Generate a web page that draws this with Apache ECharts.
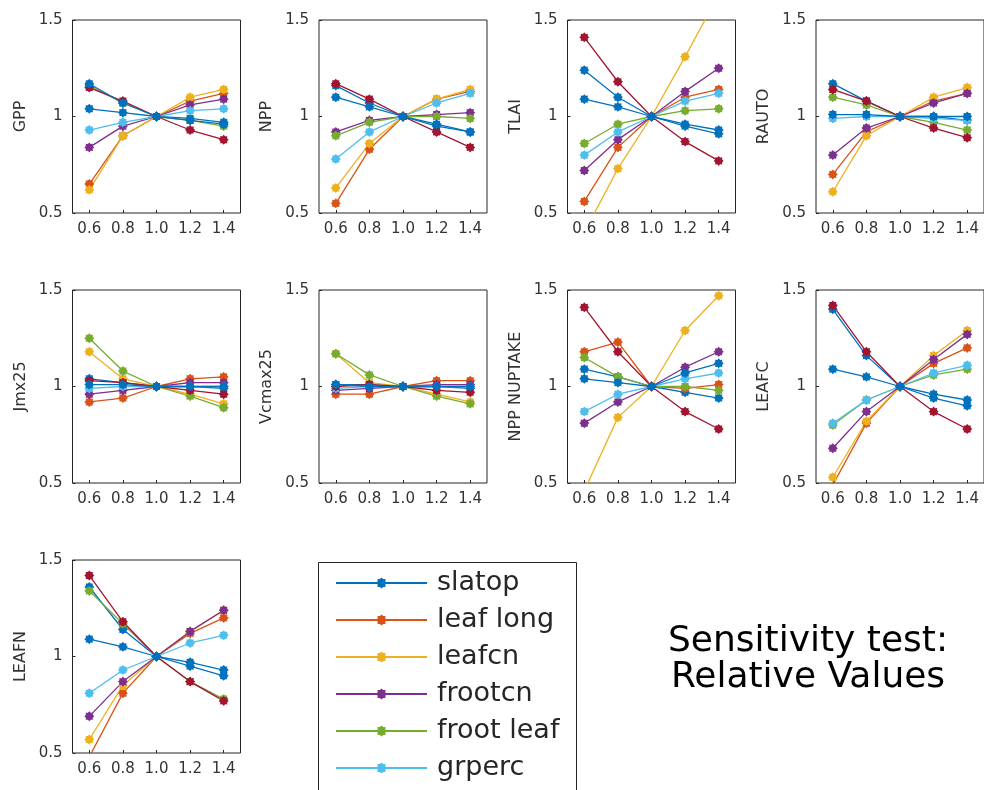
<!DOCTYPE html>
<html><head><meta charset="utf-8">
<script src="https://cdn.jsdelivr.net/npm/echarts@6/dist/echarts.min.js"></script>
<style>html,body{margin:0;padding:0;background:#fff}#c{width:984px;height:790px}</style>
</head><body><div id="c"></div>
<script>
// ---------- data ----------
const xLabels = ['0.6', '0.8', '1.0', '1.2', '1.4'];
const seriesNames = ['slatop', 'leaf long', 'leafcn', 'frootcn', 'froot leaf', 'grperc', 'param 7', 'param 8'];
const legendNames = ['slatop', 'leaf long', 'leafcn', 'frootcn', 'froot leaf', 'grperc'];
const panelNames = ['GPP', 'NPP', 'TLAI', 'RAUTO', 'Jmx25', 'Vcmax25', 'NPP NUPTAKE', 'LEAFC', 'LEAFN'];
const titleLines = ['Sensitivity test:', 'Relative Values'];

// rows: slatop, leaf long, leafcn, frootcn, froot leaf, grperc, param 7, param 8
const GPP = [
  [1.04, 1.02, 1, 0.99, 0.97],
  [0.65, 0.90, 1, 1.08, 1.12],
  [0.62, 0.90, 1, 1.10, 1.14],
  [0.84, 0.95, 1, 1.06, 1.09],
  [1.16, 1.07, 1, 0.98, 0.95],
  [0.93, 0.97, 1, 1.03, 1.04],
  [1.15, 1.08, 1, 0.93, 0.88],
  [1.17, 1.07, 1, 0.98, 0.96]
];
const NPP = [
  [1.16, 1.07, 1, 0.95, 0.92],
  [0.55, 0.83, 1, 1.09, 1.13],
  [0.63, 0.86, 1, 1.09, 1.14],
  [0.92, 0.98, 1, 1.01, 1.02],
  [0.90, 0.97, 1, 1.00, 0.99],
  [0.78, 0.92, 1, 1.07, 1.12],
  [1.17, 1.09, 1, 0.92, 0.84],
  [1.10, 1.05, 1, 0.96, 0.92]
];
const TLAI = [
  [1.24, 1.10, 1, 0.96, 0.93],
  [0.56, 0.84, 1, 1.10, 1.14],
  [0.40, 0.73, 1, 1.31, 1.63],
  [0.72, 0.88, 1, 1.13, 1.25],
  [0.86, 0.96, 1, 1.03, 1.04],
  [0.80, 0.92, 1, 1.08, 1.12],
  [1.41, 1.18, 1, 0.87, 0.77],
  [1.09, 1.05, 1, 0.95, 0.91]
];
const RAUTO = [
  [1.17, 1.08, 1, 1.00, 0.98],
  [0.70, 0.92, 1, 1.08, 1.12],
  [0.61, 0.90, 1, 1.10, 1.15],
  [0.80, 0.94, 1, 1.07, 1.12],
  [1.10, 1.06, 1, 0.97, 0.93],
  [0.99, 1.00, 1, 0.99, 0.98],
  [1.14, 1.08, 1, 0.94, 0.89],
  [1.01, 1.01, 1, 1.00, 1.00]
];
const Jmx25 = [
  [1.04, 1.02, 1, 1.00, 0.99],
  [0.92, 0.94, 1, 1.04, 1.05],
  [1.18, 1.04, 1, 0.96, 0.91],
  [0.96, 0.98, 1, 1.02, 1.02],
  [1.25, 1.08, 1, 0.95, 0.89],
  [0.99, 1.00, 1, 1.00, 1.00],
  [1.03, 1.02, 1, 0.98, 0.96],
  [1.01, 1.01, 1, 1.00, 1.00]
];
const Vcmax25 = [
  [1.01, 1.01, 1, 1.00, 0.99],
  [0.96, 0.96, 1, 1.03, 1.03],
  [1.17, 1.02, 1, 0.96, 0.92],
  [0.98, 0.99, 1, 1.01, 1.01],
  [1.17, 1.06, 1, 0.95, 0.91],
  [0.99, 1.00, 1, 1.00, 1.00],
  [1.00, 1.01, 1, 0.98, 0.97],
  [1.01, 1.00, 1, 1.00, 1.00]
];
const NPP_NUPTAKE = [
  [1.09, 1.05, 1, 0.97, 0.94],
  [1.18, 1.23, 1, 0.99, 1.01],
  [0.46, 0.84, 1, 1.29, 1.47],
  [0.81, 0.92, 1, 1.10, 1.18],
  [1.15, 1.05, 1, 1.00, 0.98],
  [0.87, 0.96, 1, 1.04, 1.07],
  [1.41, 1.18, 1, 0.87, 0.78],
  [1.04, 1.02, 1, 1.07, 1.12]
];
const LEAFC = [
  [1.40, 1.16, 1, 0.94, 0.90],
  [0.49, 0.81, 1, 1.12, 1.20],
  [0.53, 0.82, 1, 1.16, 1.29],
  [0.68, 0.87, 1, 1.14, 1.27],
  [0.80, 0.93, 1, 1.06, 1.09],
  [0.81, 0.93, 1, 1.07, 1.11],
  [1.42, 1.18, 1, 0.87, 0.78],
  [1.09, 1.05, 1, 0.96, 0.93]
];
const LEAFN = [
  [1.36, 1.14, 1, 0.95, 0.90],
  [0.48, 0.81, 1, 1.12, 1.20],
  [0.57, 0.85, 1, 1.13, 1.24],
  [0.69, 0.87, 1, 1.13, 1.24],
  [1.34, 1.17, 1, 0.87, 0.78],
  [0.81, 0.93, 1, 1.07, 1.11],
  [1.42, 1.18, 1, 0.87, 0.77],
  [1.09, 1.05, 1, 0.97, 0.93]
];
const panelData = [GPP, NPP, TLAI, RAUTO, Jmx25, Vcmax25, NPP_NUPTAKE, LEAFC, LEAFN];

// ---------- style / layout ----------
const colors = ['#0072BD', '#D95319', '#EDB120', '#7E2F8E', '#77AC30', '#4DBEEE', '#A2142F', '#0072BD'];
const colLefts = [72.5, 319, 567.5, 816];
const rowTops = [20, 290, 560];
const plotW = 168, plotH = 193;
const FONT = 'DejaVu Sans';
const axisColor = '#262626';

function starPath(n, inner) {
  let d = '';
  for (let i = 0; i < 2 * n; i++) {
    const a = Math.PI * i / n - Math.PI / 2;
    const r = i % 2 ? inner : 1;
    d += (i ? 'L' : 'M') + (r * Math.cos(a)).toFixed(3) + ' ' + (r * Math.sin(a)).toFixed(3);
  }
  return 'path://' + d + 'Z';
}
const markSym = starPath(8, 0.75);

const grids = [], xAxes = [], yAxes = [], series = [];
panelNames.forEach((nm, p) => {
  const r = Math.floor(p / 4), c = p % 4;
  grids.push({
    left: colLefts[c], top: rowTops[r], width: plotW, height: plotH,
    show: true, borderColor: axisColor, borderWidth: 1, backgroundColor: '#fff'
  });
  xAxes.push({
    type: 'category', gridIndex: p, data: xLabels, boundaryGap: true,
    axisLine: { show: false },
    axisTick: { show: true, inside: true, alignWithLabel: true, length: 3, lineStyle: { color: axisColor } },
    axisLabel: { margin: 9, color: '#333', fontFamily: FONT, fontSize: 15 },
    splitLine: { show: false }
  });
  yAxes.push({
    type: 'value', gridIndex: p, min: 0.5, max: 1.5, interval: 0.5,
    name: nm, nameLocation: 'middle', nameGap: 44,
    nameTextStyle: { color: '#333', fontFamily: FONT, fontSize: 16 },
    axisLine: { show: false },
    axisTick: { show: true, inside: true, length: 3, lineStyle: { color: axisColor } },
    axisLabel: { margin: 10, color: '#333', fontFamily: FONT, fontSize: 15 },
    splitLine: { show: false }
  });
  panelData[p].forEach((vals, s) => {
    series.push({
      type: 'line', name: seriesNames[s], xAxisIndex: p, yAxisIndex: p,
      data: vals, clip: true, animation: false,
      symbol: markSym, symbolSize: 10, showSymbol: true,
      lineStyle: { color: colors[s], width: 1.3 },
      itemStyle: { color: colors[s] },
      emphasis: { disabled: true }
    });
  });
});

const chart = echarts.init(document.getElementById('c'), null, { renderer: 'canvas' });
chart.setOption({
  backgroundColor: '#fff',
  animation: false,
  color: colors,
  grid: grids, xAxis: xAxes, yAxis: yAxes, series: series,
  legend: {
    data: legendNames, orient: 'vertical', left: 335, top: 568,
    padding: 0, itemGap: 7, itemWidth: 91, itemHeight: 14,
    lineStyle: { width: 2 },
    selectedMode: false,
    textStyle: { fontFamily: FONT, fontSize: 27, color: '#262626', lineHeight: 30, padding: [0, 0, 0, 5] }
  },
  graphic: [
    { type: 'rect', left: 318, top: 562, shape: { width: 258, height: 260 },
      style: { fill: '#fff', stroke: axisColor, lineWidth: 1 }, z: -1 },
    { type: 'text', x: 808, y: 642, style: { text: titleLines[0], font: '36px "' + FONT + '"', fill: '#000', align: 'center', verticalAlign: 'middle' } },
    { type: 'text', x: 808, y: 678, style: { text: titleLines[1], font: '36px "' + FONT + '"', fill: '#000', align: 'center', verticalAlign: 'middle' } }
  ]
});
</script></body></html>
